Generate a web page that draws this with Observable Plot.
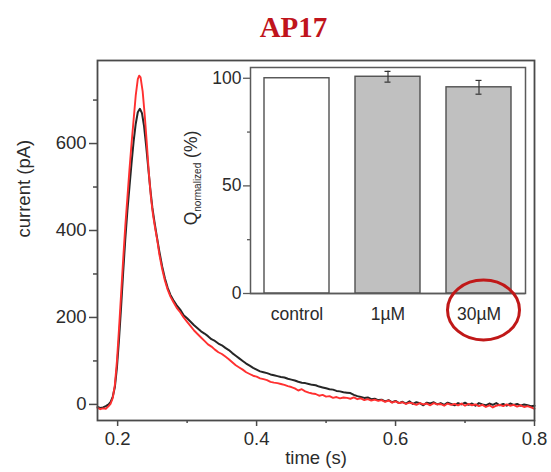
<!DOCTYPE html>
<html>
<head>
<meta charset="utf-8">
<script src="https://cdn.jsdelivr.net/npm/d3@7"></script>
<script src="https://cdn.jsdelivr.net/npm/@observablehq/plot@0.6"></script>
<style>
  body { margin: 0; background: white; }
  #wrap { position: relative; width: 551px; height: 472px; overflow: hidden; font-family: "Liberation Sans", Arial, sans-serif; }
  #title { height: 48px; width: 551px; box-sizing: border-box; padding-left: 36px; text-align: center;
           font-family: "Liberation Serif", "Times New Roman", serif; font-weight: bold; font-size: 29px;
           color: #c0141c; line-height: 29px; padding-top: 13px; }
  #inset { position: absolute; left: 170px; top: 60px; }
  svg { overflow: visible; }
</style>
</head>
<body>
<div id="wrap">
  <div id="title">AP17</div>
  <div id="main"></div>
  <div id="inset"></div>
</div>
<script>
// ---- main traces (time in s, current in pA) ----
const blackT = [0.171,0.175,0.179,0.183,0.187,0.190,0.193,0.196,0.199,0.202,0.205,0.208,0.211,0.214,0.217,0.220,0.223,0.226,0.229,0.232,0.235,0.238,0.241,0.244,0.247,0.250,0.253,0.256,0.260,0.264,0.268,0.272,0.276,0.280,0.285,0.290,0.295,0.300,0.305,0.310,0.315,0.320,0.325,0.330,0.335,0.340,0.345,0.350,0.355,0.360,0.365,0.370,0.375,0.380,0.385,0.390,0.395,0.400,0.405,0.410,0.415,0.420,0.425,0.430,0.435,0.440,0.445,0.450,0.455,0.460,0.465,0.470,0.475,0.480,0.485,0.490,0.495,0.500,0.505,0.510,0.515,0.520,0.525,0.530,0.535,0.540,0.545,0.550,0.555,0.560,0.565,0.570,0.575,0.580,0.585,0.590,0.595,0.600,0.605,0.610,0.615,0.620,0.625,0.630,0.635,0.640,0.645,0.650,0.655,0.660,0.665,0.670,0.675,0.680,0.685,0.690,0.695,0.700,0.705,0.710,0.715,0.720,0.725,0.730,0.735,0.740,0.745,0.750,0.755,0.760,0.765,0.770,0.775,0.780,0.785,0.790,0.795,0.800];
const blackI = [-6,-8,-7,-4,0,6,18,40,85,150,225,305,380,445,500,555,605,645,672,680,670,640,595,545,495,452,420,390,352,318,290,268,252,240,228,218,205,198,190,182,175,168,163,157,150,146,140,136,130,125,118,112,106,100,94,89,84,80,76,74,72,69,67,65,63,62,59,57,55,52,50,49,47,45,44,41,39,37,35,34,31,30,28,27,26,22,19,17,15,16,12,13,10,11,7,10,5,8,3,6,2,7,1,5,3,-2,4,2,5,0,3,-1,4,1,-2,3,0,4,-1,2,-3,3,0,-2,2,-1,3,-2,1,-3,2,-1,1,-3,0,-2,-4,-3];
const redT = [0.171,0.175,0.179,0.183,0.187,0.190,0.193,0.196,0.199,0.202,0.205,0.208,0.211,0.214,0.217,0.220,0.223,0.226,0.229,0.231,0.233,0.236,0.239,0.242,0.245,0.248,0.251,0.254,0.257,0.260,0.264,0.268,0.272,0.276,0.280,0.285,0.290,0.295,0.300,0.305,0.310,0.315,0.320,0.325,0.330,0.335,0.340,0.345,0.350,0.355,0.360,0.365,0.370,0.375,0.380,0.385,0.390,0.395,0.400,0.405,0.410,0.415,0.420,0.425,0.430,0.435,0.440,0.445,0.450,0.455,0.460,0.465,0.470,0.475,0.480,0.485,0.490,0.495,0.500,0.505,0.510,0.515,0.520,0.525,0.530,0.535,0.540,0.545,0.550,0.555,0.560,0.565,0.570,0.575,0.580,0.585,0.590,0.595,0.600,0.605,0.610,0.615,0.620,0.625,0.630,0.635,0.640,0.645,0.650,0.655,0.660,0.665,0.670,0.675,0.680,0.685,0.690,0.695,0.700,0.705,0.710,0.715,0.720,0.725,0.730,0.735,0.740,0.745,0.750,0.755,0.760,0.765,0.770,0.775,0.780,0.785,0.790,0.795,0.800];
const redI = [-8,-11,-9,-10,-4,2,15,45,100,175,255,335,410,475,540,600,655,710,748,756,752,720,665,600,530,475,435,405,378,345,312,285,264,248,236,222,212,200,190,180,170,162,154,146,138,133,126,120,116,110,104,97,90,85,80,74,70,66,64,60,58,56,52,50,49,47,45,42,40,37,32,35,30,27,25,24,20,22,18,19,15,17,14,16,15,13,16,12,14,10,12,9,11,8,10,6,9,4,7,3,5,1,4,2,-1,3,0,2,-2,3,0,1,-3,2,-1,1,-2,2,-3,1,-2,0,-4,-1,-6,-2,-7,-3,-1,-4,0,-3,-1,-5,-2,-6,-4,-7,-10];

const xMajor = [0.2, 0.4, 0.6, 0.8];
const xMinor = [0.3, 0.5, 0.7];
const yMajor = [0, 200, 400, 600];
const yMinor = [100, 300, 500, 700];

// ---- inset bars ----
const cats = ["control", "1µM", "30µM"];
const qVals = [100, 100.7, 95.8];
const qErr = [0, 2.5, 3.2];
const qFill = ["white", "#c0c0c0", "#c0c0c0"];
const qTicks = [0, 50, 100];
const qMinor = [25, 75];

const black = blackT.map((t, i) => ({t, v: blackI[i]}));
const red = redT.map((t, i) => ({t, v: redI[i]}));

const font = '"Liberation Sans", Arial, sans-serif';
const ink = "#2b2b2b";

const main = Plot.plot({
  width: 551, height: 424,
  marginTop: 12, marginBottom: 52, marginLeft: 97, marginRight: 17,
  x: {domain: [0.171, 0.8]},
  y: {domain: [-37, 791]},
  style: {fontFamily: font, color: ink, background: "white"},
  marks: [
    Plot.line(black, {x: "t", y: "v", stroke: "#262626", strokeWidth: 2}),
    Plot.line(red, {x: "t", y: "v", stroke: "#ff3030", strokeWidth: 1.9}),
    Plot.frame({stroke: "#4a4a4a", strokeWidth: 1.8}),
    Plot.axisY(yMajor, {tickSize: 8, tickPadding: 3, fontSize: 18.5, label: null, stroke: "#4a4a4a", strokeWidth: 1.5}),
    Plot.axisY(yMinor, {tickSize: 4, tickFormat: () => "", label: null, stroke: "#4a4a4a", strokeWidth: 1.5}),
    Plot.axisX(xMajor, {tickSize: 6, tickPadding: 5, fontSize: 18.5, label: null, stroke: "#4a4a4a", strokeWidth: 1.5, tickFormat: d => d.toFixed(1)}),
    Plot.axisX(xMinor, {tickSize: 3, tickFormat: () => "", label: null, stroke: "#4a4a4a", strokeWidth: 1.5}),
    Plot.text(["current (pA)"], {frameAnchor: "left", dx: -73, dy: -3, rotate: -90, fontSize: 18.5, fill: ink}),
    Plot.text(["time (s)"], {frameAnchor: "bottom", dy: 43, fontSize: 18.5, fill: ink})
  ]
});
document.getElementById("main").appendChild(main);

const bars = cats.map((c, i) => ({c, v: qVals[i], lo: qVals[i] - qErr[i], hi: qVals[i] + qErr[i], f: qFill[i]}));
const errs = bars.filter(d => d.hi > d.lo);

const inset = Plot.plot({
  width: 360, height: 290,
  marginLeft: 80, marginRight: 5, marginTop: 7, marginBottom: 57,
  x: {domain: cats, paddingInner: 0.29, paddingOuter: 0.14},
  y: {domain: [0, 105]},
  style: {fontFamily: font, color: ink, background: "transparent"},
  marks: [
    Plot.frame({stroke: "#5a5a5a", fill: "white", strokeWidth: 1.5}),
    Plot.barY(bars, {x: "c", y: "v", fill: "f", stroke: "#505050", strokeWidth: 1.4}),
    Plot.ruleX(errs, {x: "c", y1: "lo", y2: "hi", stroke: "#333", strokeWidth: 1.2}),
    Plot.tickY(errs, {x: "c", y: "lo", insetLeft: 29.5, insetRight: 29.5, stroke: "#333", strokeWidth: 1.2}),
    Plot.tickY(errs, {x: "c", y: "hi", insetLeft: 29.5, insetRight: 29.5, stroke: "#333", strokeWidth: 1.2}),
    Plot.axisY(qTicks, {tickSize: 7, tickPadding: 2, fontSize: 17.5, label: null, stroke: "#5a5a5a", strokeWidth: 1.3}),
    Plot.axisY(qMinor, {tickSize: 3, tickFormat: () => "", label: null, stroke: "#5a5a5a", strokeWidth: 1.3}),
    Plot.ruleY([0], {stroke: "#5a5a5a", strokeWidth: 1.5}),
    Plot.axisX({tickSize: 0, tickPadding: 14, fontSize: 17.5, label: null})
  ]
});
document.getElementById("inset").appendChild(inset);

// annotations: y label with subscript, red ellipse
const xs = inset.scale("x"), ys = inset.scale("y");
const sel = d3.select(inset);
const lab = sel.append("text")
  .attr("transform", `translate(27,${(ys.apply(0) + ys.apply(105)) / 2 - 2}) rotate(-90)`)
  .attr("text-anchor", "middle")
  .attr("fill", ink)
  .attr("font-family", font)
  .attr("font-size", 17.5);
lab.append("tspan").text("Q");
lab.append("tspan").attr("font-size", 10).attr("dy", 4).text("normalized");
lab.append("tspan").attr("dy", -4).text(" (%)");

sel.append("ellipse")
  .attr("cx", xs.apply("30µM") + xs.bandwidth / 2 + 5)
  .attr("cy", ys.apply(0) + 17)
  .attr("rx", 36).attr("ry", 30)
  .attr("fill", "none").attr("stroke", "#c01818").attr("stroke-width", 3);
</script>
</body>
</html>
